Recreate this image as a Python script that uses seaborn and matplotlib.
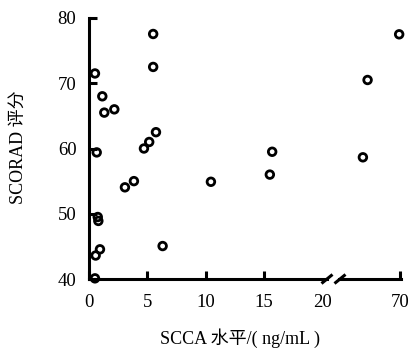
import matplotlib
matplotlib.use('Agg')
import matplotlib.pyplot as plt
import seaborn as sns
import pandas as pd
from matplotlib.lines import Line2D

# ---- data ----
scca = [5.5, 5.5, 0.51, 1.14, 1.31, 2.17, 5.74, 5.16, 4.71, 15.7, 15.5, 10.45,
        0.66, 3.08, 3.85, 0.75, 0.8, 0.94, 0.57, 6.31, 0.51,
        69.9, 67.2, 66.8]
scorad = [77.55, 72.5, 71.5, 68.0, 65.5, 66.0, 62.5, 61.0, 60.0, 59.5, 56.0, 54.9,
          59.4, 54.05, 55.0, 49.5, 48.9, 44.55, 43.6, 45.05, 40.1,
          77.5, 70.5, 58.65]
left_ticks = [0, 5, 10, 15, 20]
right_ticks = [70]
y_ticks = [40, 50, 60, 70, 80]
x_label = 'SCCA 水平/( ng/mL )'
y_label = 'SCORAD 评分'

sns.set_theme(style='white')
plt.rcParams['font.family'] = ['Liberation Serif', 'Noto Sans CJK SC']

W, H = 414, 351
fig = plt.figure(figsize=(W / 100, H / 100), dpi=100)
fig.patch.set_facecolor('white')


def fx(px):
    return px / W


def fy(py):
    return 1 - py / H


top, bottom = 18, 279
ax1 = fig.add_axes([fx(89), fy(bottom), fx(327) - fx(89), fy(top) - fy(bottom)])
ax2 = fig.add_axes([fx(339.5), fy(bottom), fx(401.5) - fx(339.5), fy(top) - fy(bottom)])

df = pd.DataFrame({'SCCA': scca, 'SCORAD': scorad})
left = df[df.SCCA < 30]
right = df[df.SCCA >= 30]

kw = dict(marker='o', s=30, color='black', edgecolor='black', linewidth=2.0,
          clip_on=False, legend=False, zorder=3)
sns.scatterplot(data=left, x='SCCA', y='SCORAD', ax=ax1, **kw)
sns.scatterplot(data=right, x='SCCA', y='SCORAD', ax=ax2, **kw)
for ax in (ax1, ax2):
    for c in ax.collections:
        c.set_facecolor('none')
        c.set_edgecolor('black')
        c.set_linewidth(2.0)
    ax.set_xlabel('')
    ax.set_ylabel('')
    ax.set_facecolor('none')
    ax.grid(False)
    for s in ax.spines.values():
        s.set_visible(False)
    ax.spines['bottom'].set_visible(True)
    ax.spines['bottom'].set_linewidth(2.2)
    ax.spines['bottom'].set_color('black')
    ax.set_ylim(40, 80)

ax1.spines['left'].set_visible(True)
ax1.spines['left'].set_linewidth(2.2)
ax1.spines['left'].set_color('black')

ax1.set_xlim(0, 20.4)
ax2.set_xlim(64.8, 70.1)
ax1.set_xticks(left_ticks)
ax1.set_xticklabels([str(t) for t in left_ticks])
ax1.set_yticks(y_ticks)
ax1.set_yticklabels([str(t) for t in y_ticks])
ax2.set_xticks(right_ticks)
ax2.set_xticklabels([str(t) for t in right_ticks])
ax2.set_yticks([])

for ax in (ax1, ax2):
    ax.tick_params(axis='x', direction='in', length=6, width=2.2, colors='black',
                   labelsize=13.5, pad=11, bottom=True)
ax1.tick_params(axis='y', direction='in', length=6, width=2.2, colors='black',
                labelsize=13.5, pad=9, left=True)
ax1.xaxis.get_major_ticks()[-1].tick1line.set_visible(False)

# break marks on the x axis
for cx in (327, 340):
    fig.add_artist(Line2D([fx(cx - 5.5), fx(cx + 5.5)], [fy(bottom + 4.5), fy(bottom - 4.5)],
                          color='black', lw=2.2, solid_capstyle='butt'))

fig.text(fx(240), fy(338), x_label, ha='center', va='center', fontsize=13, color='black')
fig.text(fx(18), fy(147), y_label, ha='center', va='center', rotation=90,
         fontsize=13, color='black')

fig.savefig('out.png', dpi=100, facecolor='white')
